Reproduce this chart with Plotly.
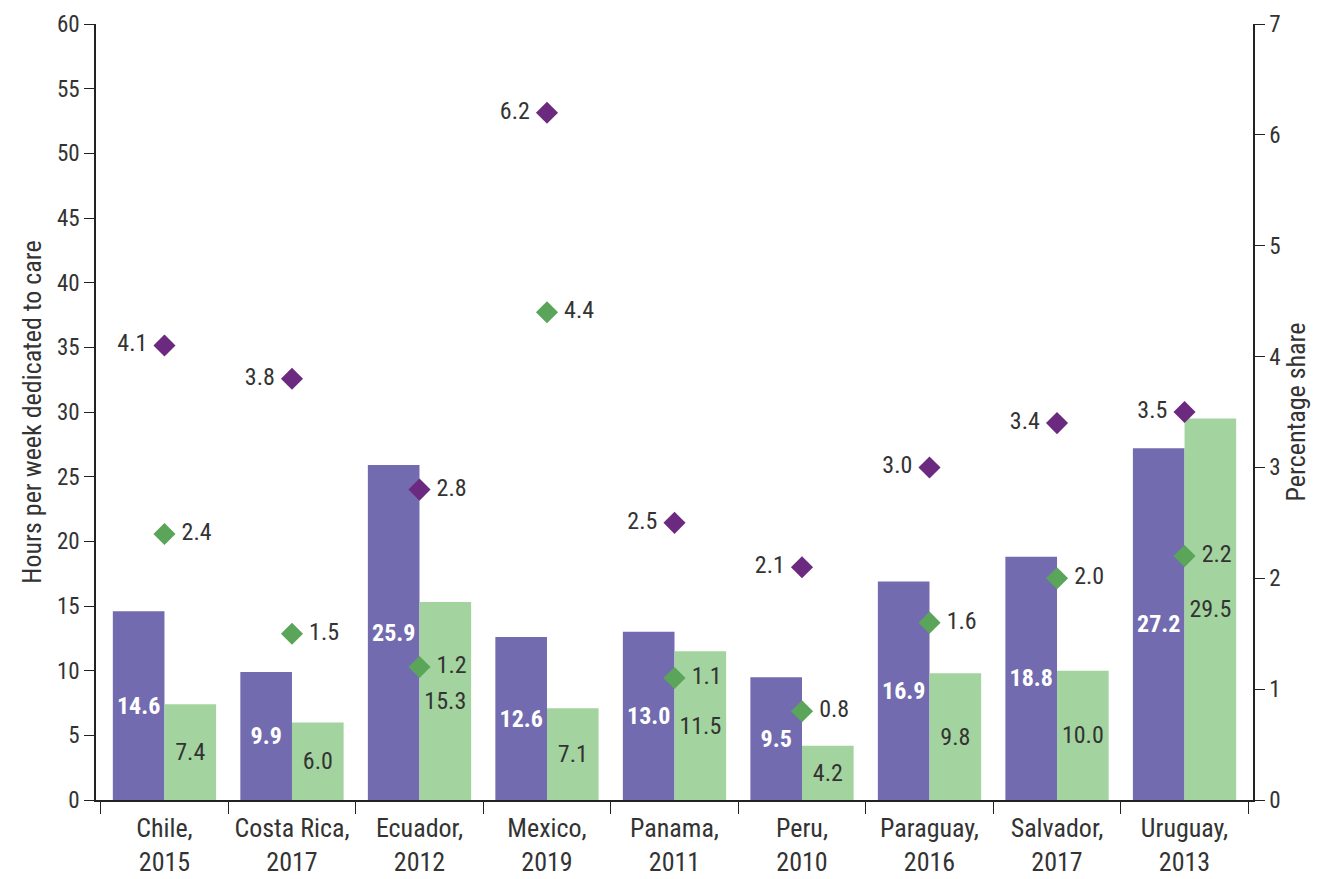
import plotly.graph_objects as go

categories = ["Chile,<br>2015", "Costa Rica,<br>2017", "Ecuador,<br>2012", "Mexico,<br>2019",
              "Panama,<br>2011", "Peru,<br>2010", "Paraguay,<br>2016", "Salvador,<br>2017", "Uruguay,<br>2013"]
hours_purple = [14.6, 9.9, 25.9, 12.6, 13.0, 9.5, 16.9, 18.8, 27.2]
hours_green = [7.4, 6.0, 15.3, 7.1, 11.5, 4.2, 9.8, 10.0, 29.5]
share_purple = [4.1, 3.8, 2.8, 6.2, 2.5, 2.1, 3.0, 3.4, 3.5]
share_green = [2.4, 1.5, 1.2, 4.4, 1.1, 0.8, 1.6, 2.0, 2.2]

FONT = "Roboto Condensed, Liberation Sans Narrow, Arial Narrow, sans-serif"
PURPLE_BAR = "#726bb0"
GREEN_BAR = "#a3d49f"
PURPLE_DIA = "#6b2a7f"
GREEN_DIA = "#5aa55a"
TXT = "#333333"
FS = 24

fig = go.Figure()
fig.add_trace(go.Bar(
    x=categories, y=hours_purple, marker_color=PURPLE_BAR, marker_line_width=0,
    text=[f"{v:.1f}" for v in hours_purple], textposition="inside", insidetextanchor="middle",
    textfont=dict(color="white", size=FS, family=FONT, weight="bold"), textangle=0,
    cliponaxis=False, showlegend=False))
fig.add_trace(go.Bar(
    x=categories, y=hours_green, marker_color=GREEN_BAR, marker_line_width=0,
    text=[f"{v:.1f}" for v in hours_green], textposition="inside", insidetextanchor="middle",
    textfont=dict(color=TXT, size=FS, family=FONT), textangle=0,
    cliponaxis=False, showlegend=False))

purple_pos = ["middle left"] * len(categories)
purple_pos[2] = "middle right"
purple_text = [(f" {v:.1f}" if p == "middle right" else f"{v:.1f} ") for v, p in zip(share_purple, purple_pos)]
fig.add_trace(go.Scatter(
    x=categories, y=share_purple, yaxis="y2", mode="markers+text",
    marker=dict(symbol="diamond", size=17, color=PURPLE_DIA),
    text=purple_text, textposition=purple_pos,
    textfont=dict(color=TXT, size=FS, family=FONT), showlegend=False, cliponaxis=False))
fig.add_trace(go.Scatter(
    x=categories, y=share_green, yaxis="y2", mode="markers+text",
    marker=dict(symbol="diamond", size=17, color=GREEN_DIA),
    text=[f" {v:.1f}" for v in share_green], textposition="middle right",
    textfont=dict(color=TXT, size=FS, family=FONT), showlegend=False, cliponaxis=False))

fig.update_layout(
    width=1324, height=879,
    margin=dict(l=88, r=79, t=16, b=87),
    paper_bgcolor="white", plot_bgcolor="white",
    barmode="group", bargap=0.19, bargroupgap=0,
    font=dict(family=FONT, size=FS, color=TXT),
    showlegend=False,
    xaxis=dict(showgrid=False, showline=True, linecolor="#222", linewidth=1.5, automargin=False,
               ticks="outside", tickson="boundaries", ticklen=12, tickcolor="#222",
               ticklabelstandoff=4,
               tickfont=dict(size=26, family=FONT, color=TXT)),
    yaxis=dict(range=[0, 60], dtick=5, showgrid=False, zeroline=False, showline=True, automargin=False,
               linecolor="#222", linewidth=1.5, ticks="outside", ticklen=10, tickcolor="#222",
               ticklabeloverflow="allow",
               tickfont=dict(size=23, family=FONT, color=TXT),
               title=dict(text="Hours per week dedicated to care", font=dict(size=26, family=FONT, color=TXT), standoff=8)),
    yaxis2=dict(range=[0, 7], dtick=1, overlaying="y", side="right", showgrid=False, zeroline=False,
                showline=True, linecolor="#222", linewidth=1.5, ticks="outside", ticklen=10, tickcolor="#222",
                automargin=False, ticklabeloverflow="allow",
                tickfont=dict(size=23, family=FONT, color=TXT),
                title=dict(text="Percentage share", font=dict(size=26, family=FONT, color=TXT), standoff=4)),
)

fig.write_html("out.html")
